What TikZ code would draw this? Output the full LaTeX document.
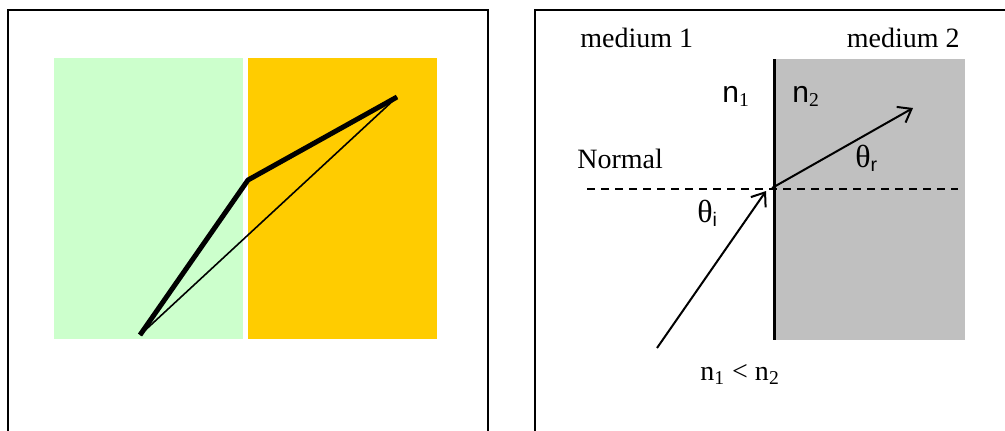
\documentclass[tikz,border=0pt]{standalone}
\usepackage{fontspec}
\setmainfont{Liberation Serif}
\newfontfamily\arialfont{Liberation Sans}
\usetikzlibrary{arrows.meta}
\definecolor{mintgreen}{HTML}{CCFFCC}
\definecolor{ambergold}{HTML}{FFCC00}
\definecolor{densegray}{HTML}{C0C0C0}
\newcommand{\nsub}[1]{{\arialfont\fontsize{15}{16}\selectfont n}\textsubscript{#1}}
\newcommand{\thsub}[1]{{\fontsize{16}{17}\selectfont θ}\textsubscript{\arialfont #1}}

\begin{document}
\begin{tikzpicture}[x=0.5pt, y=-0.5pt, font=\fontsize{14}{16}\selectfont,
  >={Straight Barb[length=6pt, width=9pt]},
  lbl/.style={anchor=base west, inner sep=0pt},
  ray/.style={->, line width=1pt}]
  \clip (0,0) rectangle (1005,430);
  % left panel: two blocks and the two paths
  \draw[line width=1pt] (8,440) -- (8,10) -- (488,10) -- (488,440);
  \fill[mintgreen] (54,58) rectangle (243,339);
  \fill[ambergold] (248,58) rectangle (437,339);
  \coordinate (src) at (140,335);
  \coordinate (bend) at (248,180);
  \coordinate (dst) at (397,97);
  \draw[line width=2.5pt, line join=round] (src) -- (bend) -- (dst);
  \draw[line width=0.8pt] (src) -- (dst);
  % right panel: refraction at the interface
  \draw[line width=1pt] (535,440) -- (535,10) -- (1010,10);
  \fill[densegray] (773,59) rectangle (965,340);
  \draw[line width=1.5pt] (774,59) coordinate (top) -- (774,340) coordinate (bot);
  \draw[line width=0.6pt, dash pattern=on 4pt off 3pt] (587,189) coordinate (nleft) -- (958,189) coordinate (nright);
  \coordinate (start) at (657,348);
  \coordinate (hit) at (766,191);
  \coordinate (exit) at (772,188);
  \coordinate (out) at (913,108);
  \draw[ray] (start) -- (hit);
  \draw[ray] (exit) -- (out);
  \node[lbl] (med1) at (580,47) {medium 1};
  \node[lbl, anchor=base east] (med2) at (960,47) {medium 2};
  \node[lbl] (nA) at (722,102) {\nsub{1}};
  \node[lbl] (nB) at (792,102) {\nsub{2}};
  \node[lbl] (normal) at (577,168) {Normal};
  \node[lbl] (thr) at (855,167) {\thsub{r}};
  \node[lbl] (thi) at (697,222) {\thsub{i}};
  \node[lbl] (cond) at (700,380) {n\textsubscript{1} < n\textsubscript{2}};
\end{tikzpicture}
\end{document}
